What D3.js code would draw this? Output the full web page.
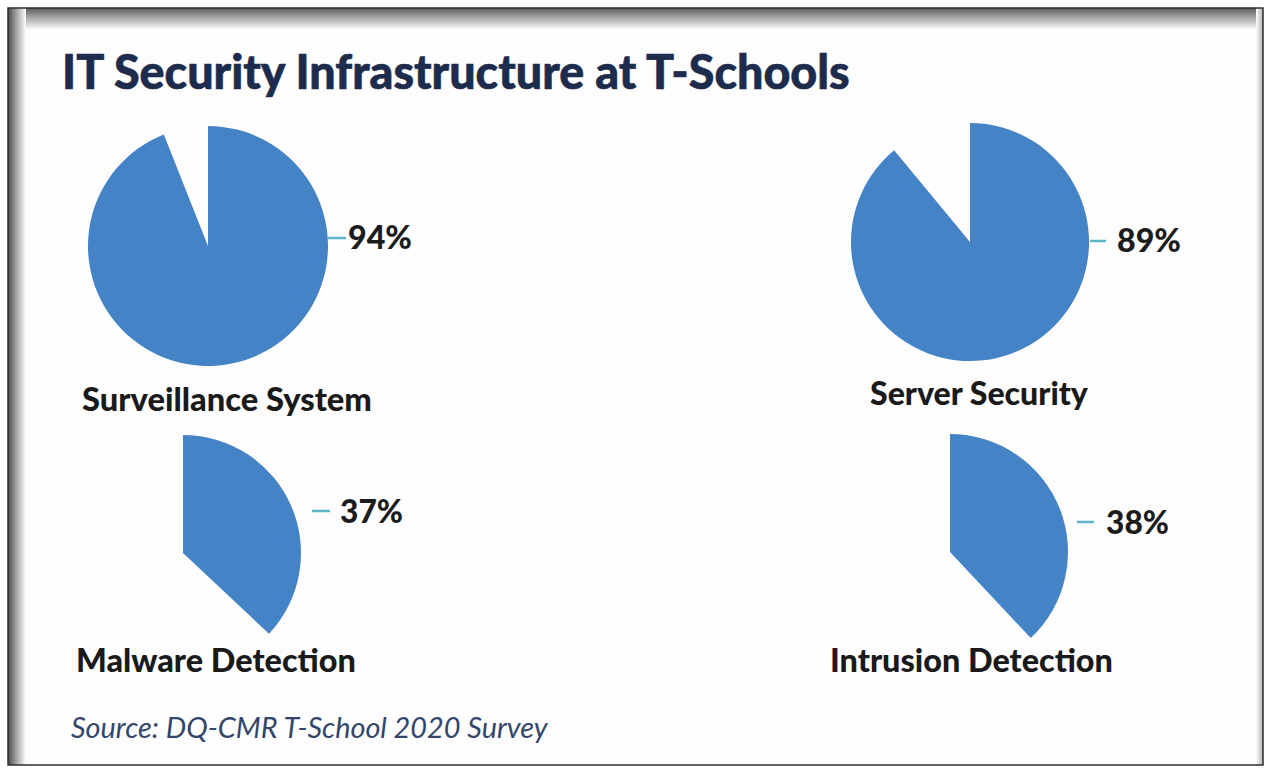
<!DOCTYPE html>
<html>
<head>
<meta charset="utf-8">
<script src="https://cdn.jsdelivr.net/npm/d3@7/dist/d3.min.js"></script>
<style>
  html, body { margin: 0; padding: 0; background: #ffffff; }
  svg { display: block; }
</style>
</head>
<body>
<svg id="chart" width="1266" height="769"></svg>
<script>
// Survey results: share of T-Schools with each security measure (%)
const categories = ["Surveillance System", "Server Security", "Malware Detection", "Intrusion Detection"];
const values = [94, 89, 37, 38];
const valueLabels = ["94%", "89%", "37%", "38%"];
const title = "IT Security Infrastructure at T-Schools";
const source = "Source: DQ-CMR T-School 2020 Survey";

// Layout of the four pie panels
const panels = [
  { cx: 208, cy: 246, r: 120, lineY: -8,  lineGap: 0,  lineLen: 18, textGap: 2,  catX: 82,  catW: 290, catY: 411, pctW: 64, pctBase: 11 },
  { cx: 970, cy: 242, r: 119, lineY: -1,  lineGap: 1,  lineLen: 16, textGap: 11, catX: 870, catW: 218, catY: 405, pctW: 64, pctBase: 11 },
  { cx: 183, cy: 553, r: 118, lineY: -42, lineGap: 11, lineLen: 18, textGap: 10, catX: 76,  catW: 280, catY: 672, pctW: 63, pctBase: 12 },
  { cx: 950, cy: 552, r: 118, lineY: -30, lineGap: 9,  lineLen: 17, textGap: 12, catX: 830, catW: 283, catY: 672, pctW: 63, pctBase: 12 }
];

const svg = d3.select("#chart");
const defs = svg.append("defs");

// Frame with soft inner shadow along top and left edges
const gTop = defs.append("linearGradient").attr("id", "shTop").attr("x1", 0).attr("y1", 0).attr("x2", 0).attr("y2", 1);
gTop.append("stop").attr("offset", "0%").attr("stop-color", "#5e5e5e");
gTop.append("stop").attr("offset", "45%").attr("stop-color", "#a8a8a8");
gTop.append("stop").attr("offset", "100%").attr("stop-color", "#ffffff");
const gLeft = defs.append("linearGradient").attr("id", "shLeft").attr("x1", 0).attr("y1", 0).attr("x2", 1).attr("y2", 0);
gLeft.append("stop").attr("offset", "0%").attr("stop-color", "#4a4a4a");
gLeft.append("stop").attr("offset", "45%").attr("stop-color", "#a0a0a0");
gLeft.append("stop").attr("offset", "100%").attr("stop-color", "#ffffff", 0);
const gRight = defs.append("linearGradient").attr("id", "shRight").attr("x1", 0).attr("y1", 0).attr("x2", 1).attr("y2", 0);
gRight.append("stop").attr("offset", "0%").attr("stop-color", "#ffffff");
gRight.append("stop").attr("offset", "100%").attr("stop-color", "#b0b0b0");

const fx0 = 8, fy0 = 8, fx1 = 1263, fy1 = 765;
svg.append("rect").attr("x", fx0).attr("y", fy0).attr("width", fx1 - fx0).attr("height", fy1 - fy0).attr("fill", "#fdfdfd");
svg.append("rect").attr("x", fx0).attr("y", fy0).attr("width", fx1 - fx0).attr("height", 22).attr("fill", "url(#shTop)");
svg.append("rect").attr("x", fx0).attr("y", fy0).attr("width", 18).attr("height", fy1 - fy0).attr("fill", "url(#shLeft)");
svg.append("rect").attr("x", fx1 - 7).attr("y", fy0).attr("width", 7).attr("height", fy1 - fy0).attr("fill", "url(#shRight)");
svg.append("rect").attr("x", fx0).attr("y", fy0).attr("width", fx1 - fx0).attr("height", fy1 - fy0)
  .attr("fill", "none").attr("stroke", "#2e2e2e").attr("stroke-width", 1.5);

// Scale a text element's font size so it spans the given width
function fitWidth(sel, width) {
  const fs = parseFloat(sel.attr("font-size"));
  const w = sel.node().getComputedTextLength();
  sel.attr("font-size", fs * width / w);
  return sel;
}

// Title
fitWidth(svg.append("text")
  .attr("x", 62).attr("y", 89)
  .attr("font-family", "Lato, 'Open Sans', sans-serif")
  .attr("font-weight", 900)
  .attr("font-size", 42)
  .attr("fill", "#1d2b4c")
  .attr("stroke", "#1d2b4c").attr("stroke-width", 0.6)
  .text(title), 788);

const pie = d3.pie().sort(null).value(d => d).startAngle(0).endAngle(2 * Math.PI);

panels.forEach((p, i) => {
  const g = svg.append("g").attr("transform", `translate(${p.cx},${p.cy})`);
  const arcs = pie([values[i], 100 - values[i]]);
  const arc = d3.arc().innerRadius(0).outerRadius(p.r);
  // Only the "yes" share is filled; the remainder stays blank
  g.append("path").attr("d", arc(arcs[0])).attr("fill", "#4583c7");

  // Leader line and value label
  const x0 = p.r + p.lineGap;
  g.append("line")
    .attr("x1", x0).attr("x2", x0 + p.lineLen)
    .attr("y1", p.lineY).attr("y2", p.lineY)
    .attr("stroke", "#5fb4c8").attr("stroke-width", 2.5);
  fitWidth(g.append("text")
    .attr("x", x0 + p.lineLen + p.textGap).attr("y", p.lineY + p.pctBase)
    .attr("font-family", "Lato, 'Open Sans', sans-serif")
    .attr("font-weight", 900)
    .attr("font-size", 30)
    .attr("fill", "#1c1c1c")
    .text(valueLabels[i]), p.pctW);

  // Category name
  fitWidth(svg.append("text")
    .attr("x", p.catX).attr("y", p.catY)
    .attr("font-family", "Lato, 'Open Sans', sans-serif")
    .attr("font-weight", 900)
    .attr("font-size", 30)
    .attr("fill", "#1a1a1a")
    .text(categories[i]), p.catW);
});

// Source note
fitWidth(svg.append("text")
  .attr("x", 71).attr("y", 738)
  .attr("font-family", "Lato, 'Open Sans', sans-serif")
  .attr("font-style", "italic")
  .attr("font-size", 24)
  .attr("fill", "#34456a")
  .text(source), 477);
</script>
</body>
</html>
